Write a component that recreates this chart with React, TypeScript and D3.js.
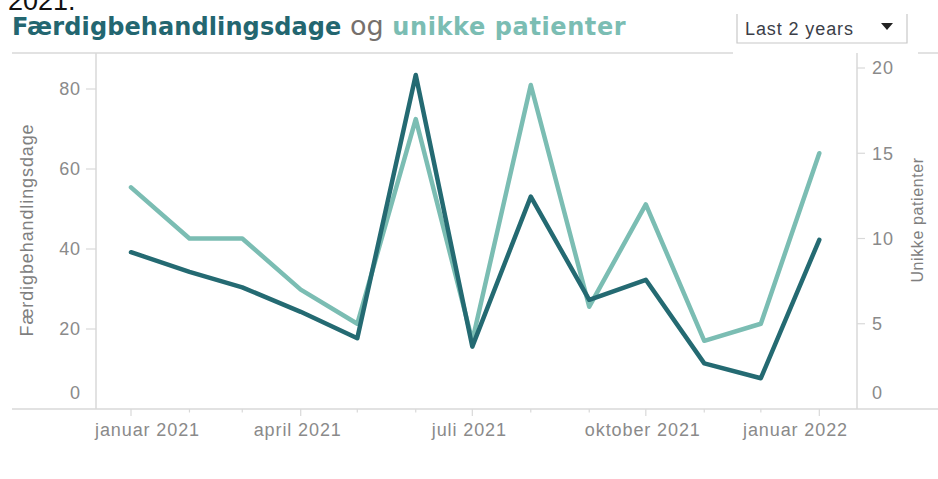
import React, { useEffect, useRef } from "react";
import * as d3 from "d3";

const months = [
  "2021-01-01", "2021-02-01", "2021-03-01", "2021-04-01", "2021-05-01", "2021-06-01",
  "2021-07-01", "2021-08-01", "2021-09-01", "2021-10-01", "2021-11-01", "2021-12-01",
  "2022-01-01",
];
const faerdigbehandlingsdage = [39.2, 34.3, 30.4, 24.3, 17.7, 83.5, 15.6, 53.1, 27.3, 32.3, 11.4, 7.7, 42.3];
const unikkePatienter = [13, 10, 10, 7, 5, 17, 4, 19, 6, 12, 4, 5, 15];
const leftTicks = [0, 20, 40, 60, 80];
const rightTicks = [0, 5, 10, 15, 20];
const quarterTicks = ["2021-01-01", "2021-04-01", "2021-07-01", "2021-10-01", "2022-01-01"];
const quarterLabels = ["januar 2021", "april 2021", "juli 2021", "oktober 2021", "januar 2022"];

const DARK = "#246a72";
const LIGHT = "#7bbdb3";
const GRID = "#d9d9d9";
const LABEL = "#8a8a8a";
const FONT = "'Liberation Sans', Arial, sans-serif";

export default function App() {
  const ref = useRef<SVGSVGElement>(null);

  useEffect(() => {
    const svg = d3.select(ref.current);
    svg.selectAll("*").remove();

    const width = 938;
    const height = 479;
    const plot = { left: 96, right: 857, top: 53, bottom: 409 };
    svg.attr("width", width).attr("height", height);

    const parse = d3.timeParse("%Y-%m-%d");
    const dates = months.map(m => parse(m));

    const x = d3.scaleTime()
      .domain([parse("2021-01-01"), parse("2022-01-01")])
      .range([131, 819.3]);
    const yLeft = d3.scaleLinear().domain([0, 80]).range([plot.bottom, 89]);
    const yRight = d3.scaleLinear().domain([0, 20]).range([plot.bottom, 68]);

    // text cut off at the top, as in the source page
    svg.append("text")
      .attr("x", 8).attr("y", 9.5)
      .style("font-family", FONT).style("font-size", "27px").attr("fill", "#111")
      .text("2021.");

    // title
    const title = svg.append("text")
      .attr("x", 12).attr("y", 35)
      .style("font-family", "'DejaVu Sans', sans-serif").style("font-size", "24px");
    title.append("tspan").attr("font-weight", "bold").attr("fill", "#236670")
      .style("letter-spacing", "0.1px").text("Færdigbehandlingsdage");
    title.append("tspan").attr("fill", "#76706c").style("font-size", "27px").text(" og ");
    title.append("tspan").attr("font-weight", "bold").attr("fill", LIGHT)
      .style("letter-spacing", "0.6px").text("unikke patienter");

    // dropdown
    svg.append("path")
      .attr("d", "M737,14 V43 H907 V14")
      .attr("fill", "#fff").attr("stroke", "#c8c8c8").attr("stroke-width", 1.2);
    svg.append("text")
      .attr("x", 745).attr("y", 35)
      .style("font-family", FONT).style("font-size", "18px").style("letter-spacing", "0.9px")
      .attr("fill", "#3b3e48")
      .text("Last 2 years");
    svg.append("path").attr("d", "M881,23 H893 L887,30 Z").attr("fill", "#222");

    // frame lines
    const frame = svg.append("g").attr("stroke", GRID).attr("stroke-width", 1.5).attr("fill", "none");
    frame.append("line").attr("x1", 12).attr("x2", 733).attr("y1", plot.top).attr("y2", plot.top);
    frame.append("line").attr("x1", 918).attr("x2", width).attr("y1", plot.top).attr("y2", plot.top);
    frame.append("line").attr("x1", 12).attr("x2", width).attr("y1", plot.bottom).attr("y2", plot.bottom);
    frame.append("line").attr("x1", plot.left).attr("x2", plot.left).attr("y1", plot.top).attr("y2", plot.bottom);
    frame.append("line").attr("x1", plot.right).attr("x2", plot.right).attr("y1", plot.top).attr("y2", plot.bottom);

    // left axis
    const la = svg.append("g");
    la.selectAll("line").data(leftTicks.filter(d => d > 0)).enter().append("line")
      .attr("x1", 86).attr("x2", plot.left)
      .attr("y1", d => yLeft(d)).attr("y2", d => yLeft(d))
      .attr("stroke", GRID).attr("stroke-width", 1.2);
    la.selectAll("text").data(leftTicks).enter().append("text")
      .attr("x", 81)
      .attr("y", d => (d === 0 ? yLeft(d) - 16 : yLeft(d)))
      .attr("dy", "0.35em")
      .attr("text-anchor", "end")
      .style("font-family", FONT).style("font-size", "18px").style("letter-spacing", "0.9px")
      .attr("fill", LABEL)
      .text(d => d);
    svg.append("text")
      .attr("transform", "translate(33,230) rotate(-90)")
      .attr("text-anchor", "middle")
      .style("font-family", FONT).style("font-size", "18px").style("letter-spacing", "0.9px")
      .attr("fill", "#7f7f7f")
      .text("Færdigbehandlingsdage");

    // right axis
    const ra = svg.append("g");
    ra.selectAll("line").data(rightTicks.filter(d => d > 0)).enter().append("line")
      .attr("x1", plot.right).attr("x2", 865)
      .attr("y1", d => yRight(d)).attr("y2", d => yRight(d))
      .attr("stroke", GRID).attr("stroke-width", 1.2);
    ra.selectAll("text").data(rightTicks).enter().append("text")
      .attr("x", 872)
      .attr("y", d => (d === 0 ? yRight(d) - 16 : yRight(d)))
      .attr("dy", "0.35em")
      .style("font-family", FONT).style("font-size", "18px").style("letter-spacing", "0.9px")
      .attr("fill", LABEL)
      .text(d => d);
    svg.append("text")
      .attr("transform", "translate(923,220) rotate(-90)")
      .attr("text-anchor", "middle")
      .style("font-family", FONT).style("font-size", "16px").style("letter-spacing", "0.6px")
      .attr("fill", "#7f7f7f")
      .text("Unikke patienter");

    // x axis ticks (monthly, longer at quarters)
    const quarterSet = new Set(quarterTicks);
    svg.append("g").selectAll("line").data(months).enter().append("line")
      .attr("x1", d => x(parse(d))).attr("x2", d => x(parse(d)))
      .attr("y1", plot.bottom)
      .attr("y2", d => plot.bottom + (quarterSet.has(d) ? 7 : 3.5))
      .attr("stroke", GRID).attr("stroke-width", 1.2);

    const xl = svg.append("g").selectAll("text").data(quarterTicks).enter().append("text")
      .attr("y", 436)
      .attr("text-anchor", "middle")
      .style("font-family", FONT).style("font-size", "18px").style("letter-spacing", "0.9px")
      .attr("fill", LABEL)
      .text((d, i) => quarterLabels[i]);
    xl.each(function (d) {
      const el = this as SVGTextElement;
      const w = el.getComputedTextLength();
      let cx = x(parse(d)) - 3;
      if (cx - w / 2 < plot.left - 1) cx = plot.left - 1 + w / 2;
      if (cx + w / 2 > 848) cx = 848 - w / 2;
      d3.select(el).attr("x", cx);
    });

    // lines
    const lineRight = d3.line<number>()
      .x((d, i) => x(dates[i]))
      .y(d => yRight(d));
    const lineLeft = d3.line<number>()
      .x((d, i) => x(dates[i]))
      .y(d => yLeft(d));

    svg.append("path")
      .datum(unikkePatienter)
      .attr("d", lineRight)
      .attr("fill", "none").attr("stroke", LIGHT).attr("stroke-width", 4.5)
      .attr("stroke-linejoin", "round").attr("stroke-linecap", "round");
    svg.append("path")
      .datum(faerdigbehandlingsdage)
      .attr("d", lineLeft)
      .attr("fill", "none").attr("stroke", DARK).attr("stroke-width", 4.5)
      .attr("stroke-linejoin", "round").attr("stroke-linecap", "round");
  }, []);

  return (
    <div style={{ position: "absolute", left: 0, top: 0, width: 938, height: 479, background: "#fff" }}>
      <svg ref={ref} style={{ display: "block" }}></svg>
    </div>
  );
}
